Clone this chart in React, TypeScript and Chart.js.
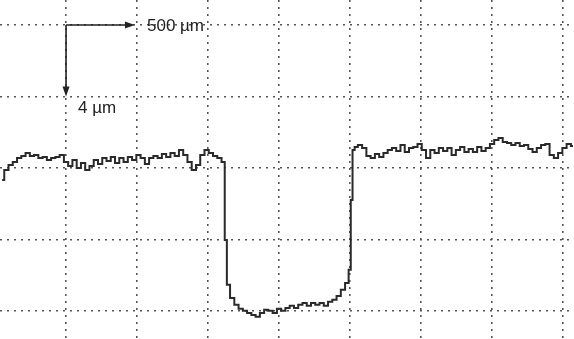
import React, { useEffect, useRef } from "react";
import { Chart, registerables } from "chart.js";

Chart.register(...registerables);

// Scan position along the surface (µm)
const positions: number[] = [
  -450, -420, -390, -360, -330, -300, -270, -240, -210, -180, -150, -120, -90, -60, -30,
  0, 30, 60, 90, 120, 150, 180, 210, 240, 270, 300, 330, 360, 390, 420, 450, 480, 510,
  540, 570, 600, 630, 660, 690, 720, 750, 780, 810, 840, 870, 900, 930, 960, 990, 1020,
  1050, 1080, 1110, 1125, 1140, 1170, 1200, 1230, 1260, 1290, 1320, 1350, 1380, 1410,
  1440, 1470, 1500, 1530, 1560, 1590, 1620, 1650, 1680, 1710, 1740, 1770, 1800, 1830,
  1860, 1890, 1920, 1950, 1980, 2000, 2010, 2025, 2040, 2070, 2100, 2130, 2160, 2190,
  2220, 2250, 2280, 2310, 2340, 2370, 2400, 2430, 2460, 2490, 2520, 2550, 2580, 2610,
  2640, 2670, 2700, 2730, 2760, 2790, 2820, 2850, 2880, 2910, 2940, 2970, 3000, 3030,
  3060, 3090, 3120, 3150, 3180, 3210, 3240, 3270, 3300, 3330, 3360, 3390, 3420, 3450,
  3480, 3510, 3540, 3570,
];

// Surface height (µm)
const heights: number[] = [
  -0.67, -0.11, 0.17, 0.34, 0.56, 0.67, 0.84, 0.67, 0.73, 0.56, 0.61, 0.45, 0.56, 0.61, 0.73,
  0.34, 0.11, 0.45, 0.0, 0.28, -0.11, 0.11, 0.45, 0.22, 0.56, 0.39, 0.61, 0.28, 0.56, 0.34,
  0.61, 0.45, 0.73, 0.56, 0.22, 0.56, 0.67, 0.56, 0.78, 0.61, 0.84, 0.67, 1.01, 0.73, 0.34,
  -0.11, 0.17, 0.73, 1.01, 0.84, 0.67, 0.56, 0.34, -4.03, -6.54, -7.27, -7.66, -7.88, -7.99,
  -8.11, -8.22, -8.33, -8.11, -7.94, -7.99, -8.11, -7.88, -7.99, -7.83, -7.71, -7.83, -7.66,
  -7.55, -7.71, -7.55, -7.66, -7.55, -7.71, -7.49, -7.38, -7.16, -6.82, -6.43, -5.7, -1.79,
  1.01, 1.17, 1.29, 1.12, 0.67, 0.56, 0.78, 0.61, 0.84, 1.01, 1.12, 0.95, 1.29, 0.89, 1.12,
  1.17, 1.34, 1.01, 0.56, 1.01, 0.84, 1.12, 0.95, 1.12, 0.73, 1.01, 1.17, 0.89, 1.06, 0.89,
  1.17, 0.95, 1.12, 1.34, 1.57, 1.68, 1.45, 1.4, 1.29, 1.4, 1.23, 1.29, 1.06, 0.89, 1.12,
  1.29, 1.34, 0.73, 0.56, 0.84, 1.12, 1.34, 1.23,
];

// Grid divisions: 500 µm horizontally, 4 µm vertically
const xTicks: number[] = [0, 500, 1000, 1500, 2000, 2500, 3000, 3500];
const yTicks: number[] = [-8, -4, 0, 4, 8];
const xRange = [-465, 3577];
const yRange = [-9.57, 9.4];

const scaleBarLabelX = "500 µm";
const scaleBarLabelY = "4 µm";

const arrowsPlugin = {
  id: "scaleBars",
  afterDatasetsDraw(chart: any) {
    const { ctx, scales } = chart;
    const x = scales.x;
    const y = scales.y;
    const x0 = x.getPixelForValue(xTicks[0]);
    const y0 = y.getPixelForValue(yTicks[4]);
    const x1 = x.getPixelForValue(xTicks[1] * 0.97);
    const y1 = y.getPixelForValue(yTicks[3]);
    ctx.save();
    ctx.strokeStyle = "#222";
    ctx.fillStyle = "#222";
    ctx.lineWidth = 1.6;
    ctx.beginPath();
    ctx.moveTo(x0, y0);
    ctx.lineTo(x1 - 8, y0);
    ctx.moveTo(x0, y0);
    ctx.lineTo(x0, y1 - 8);
    ctx.stroke();
    ctx.beginPath();
    ctx.moveTo(x1, y0);
    ctx.lineTo(x1 - 10, y0 - 3.5);
    ctx.lineTo(x1 - 10, y0 + 3.5);
    ctx.closePath();
    ctx.fill();
    ctx.beginPath();
    ctx.moveTo(x0, y1);
    ctx.lineTo(x0 - 3.5, y1 - 10);
    ctx.lineTo(x0 + 3.5, y1 - 10);
    ctx.closePath();
    ctx.fill();
    ctx.font = "17px 'Liberation Sans', Arial, sans-serif";
    ctx.textBaseline = "middle";
    ctx.textAlign = "left";
    ctx.fillText(scaleBarLabelX, x.getPixelForValue(570), y0 + 1);
    ctx.fillText(scaleBarLabelY, x.getPixelForValue(85), y.getPixelForValue(3.35));
    ctx.restore();
  },
};

export default function App() {
  const ref = useRef<HTMLCanvasElement | null>(null);
  useEffect(() => {
    if (!ref.current) return;
    const data = positions.map((p, i) => ({ x: p, y: heights[i] }));
    const grid = {
      color: "#555",
      lineWidth: 1.6,
      drawTicks: false,
    };
    const chart = new Chart(ref.current, {
      type: "line",
      data: {
        datasets: [
          {
            data,
            borderColor: "#2a2a2a",
            borderWidth: 2,
            pointRadius: 0,
            stepped: "middle",
            tension: 0,
          },
        ],
      },
      options: {
        animation: false,
        responsive: false,
        maintainAspectRatio: false,
        layout: { padding: 0 },
        plugins: { legend: { display: false }, tooltip: { enabled: false } },
        scales: {
          x: {
            type: "linear",
            min: xRange[0],
            max: xRange[1],
            border: { display: false, dash: [2, 5] },
            grid: grid as any,
            ticks: { display: false },
            afterBuildTicks: (s: any) => {
              s.ticks = xTicks.map((v) => ({ value: v }));
            },
          },
          y: {
            type: "linear",
            min: yRange[0],
            max: yRange[1],
            border: { display: false, dash: [2, 5] },
            grid: grid as any,
            ticks: { display: false },
            afterBuildTicks: (s: any) => {
              s.ticks = yTicks.map((v) => ({ value: v }));
            },
          },
        },
      },
      plugins: [arrowsPlugin],
    });
    return () => chart.destroy();
  }, []);
  return (
    <div style={{ position: "absolute", left: 0, top: 0, width: 574, height: 339, background: "#fff" }}>
      <canvas ref={ref} width={574} height={339} />
    </div>
  );
}
